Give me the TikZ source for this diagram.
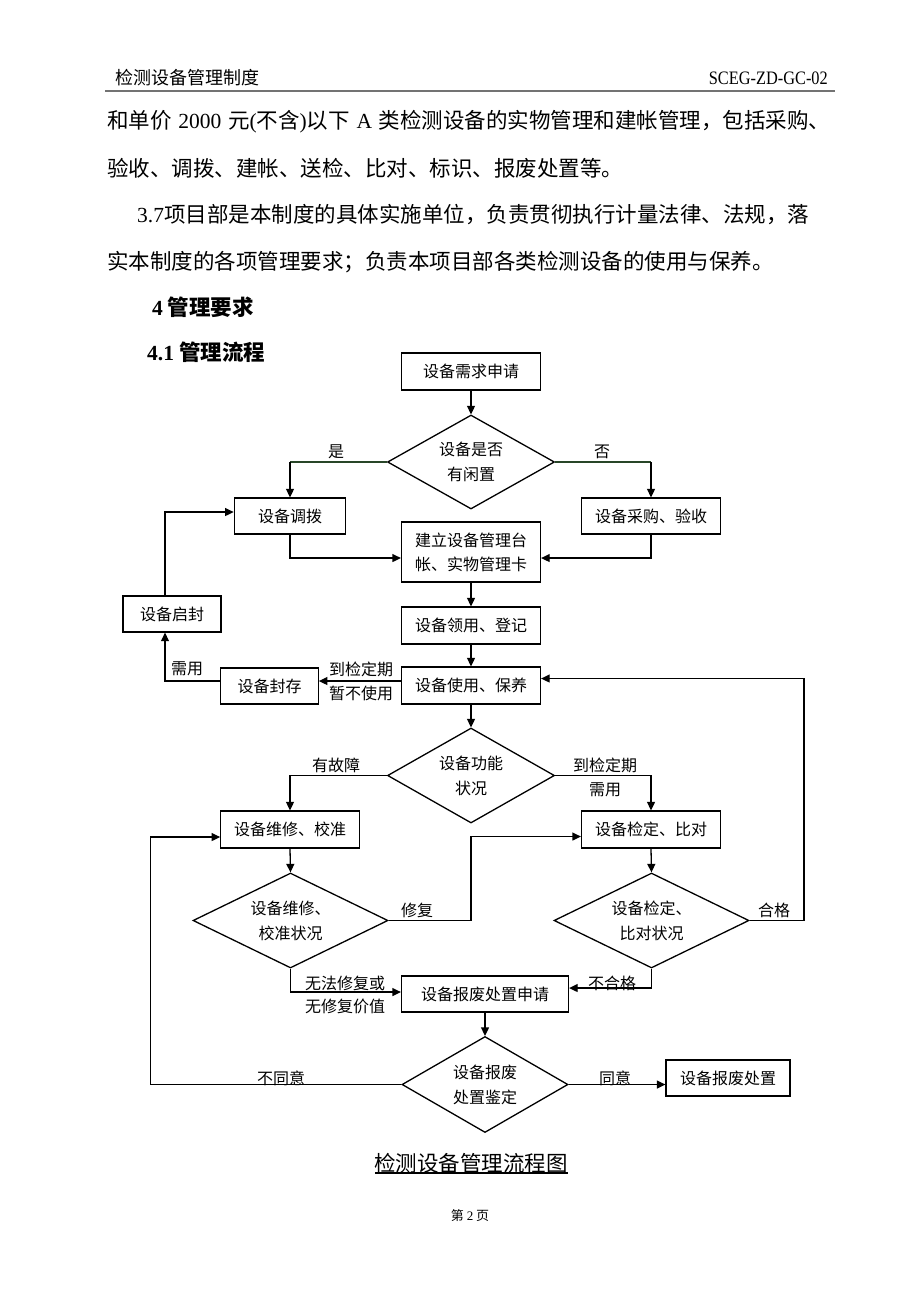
\documentclass[tikz,border=0pt]{standalone}
\usepackage{fontspec}
\setmainfont{Noto Sans CJK SC}
\newfontfamily\lat{Liberation Serif}
\usetikzlibrary{shapes.geometric,arrows.meta,calc}
\definecolor{lgreen}{RGB}{40,70,40}
\begin{document}
\begin{tikzpicture}[x=1pt,y=-1pt,
  box/.style={draw, line width=1.3pt, inner sep=0pt, minimum height=37pt, align=center, font=\fontsize{16}{24}\selectfont},
  dia/.style={draw, shape=diamond, shape aspect=2, line width=1.3pt, inner sep=0pt, align=center, font=\fontsize{16}{25}\selectfont},
  arr/.style={-{Triangle[length=8.5pt,width=8pt]}, line width=1.3pt},
  gl/.style={line width=1.3pt, draw=lgreen},
  lbl/.style={inner sep=0pt, font=\fontsize{16}{24}\selectfont},
  body/.style={anchor=west, inner sep=0pt, font=\fontsize{21.5}{25}\selectfont},
]
\useasboundingbox (0,0) rectangle (920,1302);
\fill[white] (0,0) rectangle (920,1302);

% header
\node[anchor=west, inner sep=0pt, font=\fontsize{18}{22}\selectfont] (hd) at (115,78) {检测设备管理制度};
\node[anchor=east, inner sep=0pt, font=\fontsize{19}{22}\selectfont] (code) at (828,78) {\scalebox{0.86}[1]{\lat SCEG-ZD-GC-02}};
\coordinate (hl1) at (105,91);
\coordinate (hl2) at (835,91);
\draw[line width=2.4pt, black!55] (hl1) -- (hl2);

% body text
\node[body] (t1) at (107,122) {\hbox to 723pt{和单价 {\lat 2000} 元{\lat (}不含{\lat )}以下 {\lat A} 类检测设备的实物管理和建帐管理，包括采购、}};
\node[body] (t2) at (107,168) {验收、调拨、建帐、送检、比对、标识、报废处置等。};
\node[body] (t3) at (137,215) {{\lat 3.7}项目部是本制度的具体实施单位，负责贯彻执行计量法律、法规，落};
\node[body] (t4) at (107,262) {实本制度的各项管理要求；负责本项目部各类检测设备的使用与保养。};
\node[body, font=\fontsize{21.5}{25}\selectfont\bfseries] (h4) at (152,307) {{\lat\bfseries 4} 管理要求};
\node[body, font=\fontsize{21.5}{25}\selectfont\bfseries] (h41) at (147,352) {{\lat\bfseries 4.1} 管理流程};

% flowchart nodes
\node[box, minimum width=139pt] (n1) at (471,371.5) {设备需求申请};
\node[dia, minimum width=167pt, minimum height=94pt] (d1) at (471,462) {设备是否\\有闲置};
\node[box, minimum width=111.5pt, minimum height=36pt] (bdiao) at (290,516) {设备调拨};
\node[box, minimum width=139pt, minimum height=36pt] (bcg) at (651,516) {设备采购、验收};
\node[box, minimum width=139pt, minimum height=60pt] (bjl) at (471,552) {建立设备管理台\\帐、实物管理卡};
\node[box, minimum width=98pt, minimum height=36pt] (bqf) at (172,614) {设备启封};
\node[box, minimum width=139pt] (bly) at (471,625.5) {设备领用、登记};
\node[box, minimum width=139pt] (bsy) at (471,685.5) {设备使用、保养};
\node[box, minimum width=97.5pt, minimum height=36pt] (bfc) at (269.5,686) {设备封存};
\node[dia, minimum width=167pt, minimum height=95pt] (d2) at (471,775.5) {设备功能\\状况};
\node[box, minimum width=138.5pt] (bwx) at (290,829.5) {设备维修、校准};
\node[box, minimum width=139pt] (bjd) at (651,829.5) {设备检定、比对};
\node[dia, minimum width=195pt, minimum height=95pt] (d3) at (290.5,920.5) {设备维修、\\校准状况};
\node[dia, minimum width=195pt, minimum height=95pt] (d4) at (651.5,920.5) {设备检定、\\比对状况};
\node[box, minimum width=167pt, minimum height=36pt] (bbf) at (485,994) {设备报废处置申请};
\node[dia, minimum width=166pt, minimum height=96pt] (d5) at (485,1084.5) {设备报废\\处置鉴定};
\node[box, minimum width=124pt, minimum height=36pt] (bcz) at (728,1078) {设备报废处置};

% helper coordinates
\coordinate (jlW) at ($(bjl.west)+(0,6)$);
\coordinate (jlE) at ($(bjl.east)+(0,6)$);
\coordinate (p8) at ($(bsy.west)+(0,-4.5)$);
\coordinate (p9) at ($(bfc.west)+(0,-5)$);
\coordinate (qfb) at ($(bqf.south)+(-7,0)$);
\coordinate (qft) at ($(bqf.north)+(-7,0)$);
\coordinate (dw) at ($(bdiao.west)+(0,-4)$);
\coordinate (jdW) at ($(bjd.west)+(0,7)$);
\coordinate (syE) at ($(bsy.east)+(0,-7)$);
\coordinate (rx) at (804,800);
\coordinate (bfW) at ($(bbf.west)+(0,-2)$);
\coordinate (bfE) at ($(bbf.east)+(0,-6)$);
\coordinate (lx) at (150.5,900);
\coordinate (wxW) at ($(bwx.west)+(0,7.5)$);

% connectors
\draw[arr] (n1.south) -- (d1.north);
\draw[gl] (d1.west) -- (d1.west -| bdiao.north);
\draw[arr] (d1.west -| bdiao.north) -- (bdiao.north);
\draw[gl] (d1.east) -- (d1.east -| bcg.north);
\draw[arr] (d1.east -| bcg.north) -- (bcg.north);
\draw[arr] (bdiao.south) |- (jlW);
\draw[arr] (bcg.south) |- (jlE);
\draw[arr] (bjl.south) -- (bly.north);
\draw[arr] (bly.south) -- (bsy.north);
\draw[arr] (p8) -- (p8 -| bfc.east);
\draw[arr] (p9) -| (qfb);
\draw[arr] (qft) |- (dw);
\draw[arr] (bsy.south) -- (d2.north);
\draw[arr] (d2.west) -| (bwx.north);
\draw[arr] (d2.east) -| (bjd.north);
\draw[arr] (bwx.south) -- (d3.north);
\draw[arr] (bjd.south) -- (d4.north);
\draw[arr] (d3.east) -- (d2.south |- d3.east) |- (jdW);
\draw[arr] (d4.east) -| (rx |- syE) -- (syE);
\draw[arr] (d3.south) |- (bfW);
\draw[arr] (d4.south) |- (bfE);
\draw[arr] (bbf.south) -- (d5.north);
\draw[arr] (d5.east) -- (d5.east -| bcz.west);
\draw[arr] (d5.west) -| (lx |- wxW) -- (wxW);

% labels
\node[lbl] (l1) at (336,452) {是};
\node[lbl] (l2) at (602,452) {否};
\node[lbl] (l3) at (187,669) {需用};
\node[lbl] (l4) at (361,669) {到检定期};
\node[lbl] (l5) at (361,693) {暂不使用};
\node[lbl] (l6) at (336,765) {有故障};
\node[lbl] (l7) at (605,765) {到检定期};
\node[lbl] (l8) at (605,790) {需用};
\node[lbl] (l9) at (417,910) {修复};
\node[lbl] (l10) at (774,910) {合格};
\node[lbl] (l11) at (345,983) {无法修复或};
\node[lbl] (l12) at (345,1006) {无修复价值};
\node[lbl] (l13) at (612,983) {不合格};
\node[lbl] (l14) at (281,1078) {不同意};
\node[lbl] (l15) at (615,1078) {同意};

% caption and footer
\node[inner sep=0pt, font=\fontsize{21.5}{25}\selectfont] (cap) at (471,1163) {检测设备管理流程图};
\coordinate (ul1) at (375,1173);
\coordinate (ul2) at (568,1173);
\draw[line width=1.2pt] (ul1) -- (ul2);
\node[inner sep=0pt, font=\fontsize{13}{16}\selectfont] (ft) at (470,1216) {第 {\lat 2} 页};
\end{tikzpicture}
\end{document}
